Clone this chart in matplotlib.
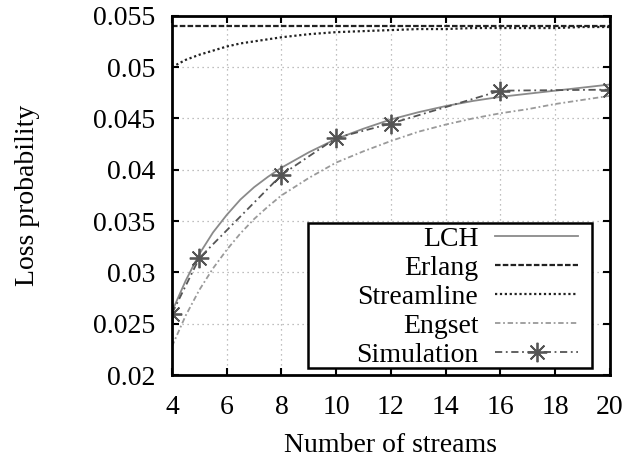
import matplotlib

matplotlib.use("Agg")
import matplotlib.pyplot as plt
from matplotlib.patches import Rectangle

plt.rcParams["font.family"] = ["Liberation Serif", "DejaVu Serif"]

# values
x_model = [4, 4.5, 5, 5.5, 6, 6.5, 7, 7.5, 8, 9, 10, 11, 12, 13, 14, 15, 16, 17, 18, 19, 20]
lch = [0.0262, 0.0292, 0.0318, 0.0339, 0.0356, 0.0371, 0.0383, 0.0393, 0.0402, 0.0417,
       0.0430, 0.0440, 0.0449, 0.0456, 0.0462, 0.0467, 0.0471, 0.0474, 0.0477, 0.0480, 0.0483]
streamline = [0.0500, 0.0507, 0.0512, 0.0516, 0.0520, 0.0523, 0.0525, 0.0527, 0.0529, 0.0532,
              0.0534, 0.0535, 0.0536, 0.0537, 0.0537, 0.0538, 0.0538, 0.0538, 0.0538, 0.0539, 0.0539]
engset = [0.0228, 0.0258, 0.0283, 0.0304, 0.0322, 0.0338, 0.0352, 0.0364, 0.0375, 0.0392,
          0.0407, 0.0418, 0.0428, 0.0437, 0.0444, 0.0450, 0.0455, 0.0459, 0.0464, 0.0468, 0.0472]
erlang = [0.0540] * len(x_model)

x_sim = [4, 5, 8, 10, 12, 16, 20]
simulation = [0.0260, 0.0314, 0.0395, 0.0431, 0.0445, 0.0477, 0.0478]

x_ticks = [4, 6, 8, 10, 12, 14, 16, 18, 20]
y_ticks = [0.02, 0.025, 0.03, 0.035, 0.04, 0.045, 0.05, 0.055]
y_tick_labels = ["0.02", "0.025", "0.03", "0.035", "0.04", "0.045", "0.05", "0.055"]

fig = plt.figure(figsize=(6.3, 4.62), dpi=100)
ax = fig.add_axes([0.273, 0.188, 0.695, 0.778])

ax.plot(x_model, lch, color="#8a8a8a", lw=1.3, label="LCH")
ax.plot(x_model, erlang, color="#222222", lw=1.6, ls=(0, (2.5, 1)), label="Erlang")
ax.plot(x_model, streamline, color="#222222", lw=1.6, ls=(0, (1, 1.2)), label="Streamline")
ax.plot(x_model, engset, color="#9a9a9a", lw=1.3, ls=(0, (3, 1.5, 1, 1.5)), label="Engset")
ax.plot(x_sim, simulation, color="#555555", lw=1.3, ls=(0, (4, 2, 1, 2)),
        marker=(8, 2, 0), markersize=14, markeredgewidth=1.3, label="Simulation")

ax.set_xlim(4, 20)
ax.set_ylim(0.02, 0.055)
ax.set_xticks(x_ticks)
ax.set_yticks(y_ticks)
ax.set_yticklabels(y_tick_labels)
ax.tick_params(direction="in", top=True, right=True, length=5, width=1.5,
               labelsize=20, pad=12)
ax.tick_params(axis="x", pad=14)
ax.grid(True, color="#aaaaaa", ls=(0, (1, 3)), lw=0.9)
for spine in ax.spines.values():
    spine.set_linewidth(2)

ax.set_xlabel("Number of streams", fontsize=20, labelpad=10)
ax.set_ylabel("Loss probability", fontsize=20, labelpad=38)

# gnuplot-style key: text right-aligned, sample on the right, wide box
key_box = Rectangle((0.3105, 0.0195), 0.6485, 0.4035, transform=ax.transAxes,
                    facecolor="white", edgecolor="black", lw=1.8, zorder=4)
ax.add_patch(key_box)
leg = ax.legend(loc="lower right", bbox_to_anchor=(0.928, 0.02), markerfirst=False,
                fontsize=20, handlelength=3, frameon=False, borderaxespad=0,
                labelspacing=0.13, handletextpad=0.6, borderpad=0)
leg.set_zorder(5)
for text in leg.get_texts():
    text.set_ha("right")
leg._legend_box.align = "right"

fig.savefig("out.png", dpi=100)
